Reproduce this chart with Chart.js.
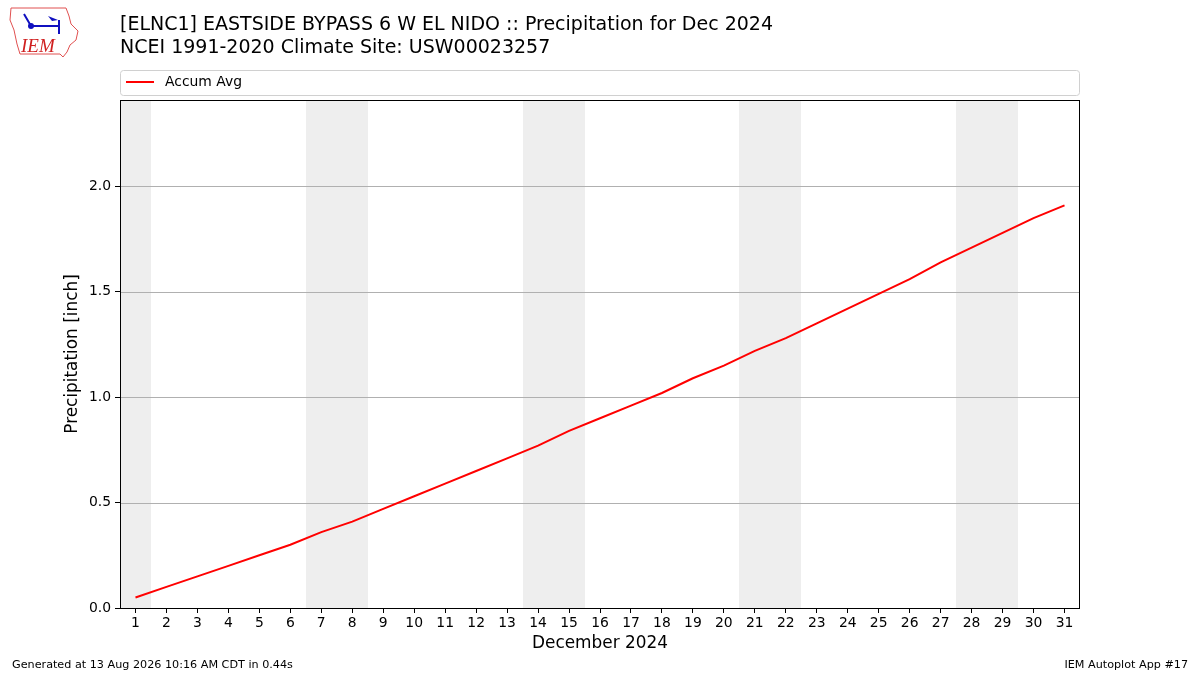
<!DOCTYPE html>
<html>
<head>
<meta charset="utf-8">
<script src="https://cdn.jsdelivr.net/npm/chart.js@4.4.1/dist/chart.umd.min.js"></script>
<style>
  html, body { margin: 0; padding: 0; background: #fff; }
  #wrap { width: 1200px; height: 675px; }
</style>
</head>
<body>
<div id="wrap"><canvas id="precipChart" width="1200" height="675"></canvas></div>
<script>
// chart data
const days = [1, 2, 3, 4, 5, 6, 7, 8, 9, 10, 11, 12, 13, 14, 15, 16,
              17, 18, 19, 20, 21, 22, 23, 24, 25, 26, 27, 28, 29, 30, 31];
const accumAvg = [0.05, 0.10, 0.15, 0.20, 0.25, 0.30, 0.36, 0.41, 0.47, 0.53, 0.59,
                  0.65, 0.71, 0.77, 0.84, 0.90, 0.96, 1.02, 1.09, 1.15, 1.22, 1.28,
                  1.35, 1.42, 1.49, 1.56, 1.64, 1.71, 1.78, 1.85, 1.91];
const weekendDays = [1, 7, 8, 14, 15, 21, 22, 28, 29];
const yTicks = [0.0, 0.5, 1.0, 1.5, 2.0];

const titleLines = [
    '[ELNC1] EASTSIDE BYPASS 6 W EL NIDO :: Precipitation for Dec 2024',
    'NCEI 1991-2020 Climate Site: USW00023257'
];
const xTitle = 'December 2024';
const yTitle = 'Precipitation [inch]';
const footLeft = 'Generated at 13 Aug 2026 10:16 AM CDT in 0.44s';
const footRight = 'IEM Autoplot App #17';

const FONT = '"DejaVu Sans", "Liberation Sans", sans-serif';

// grey weekend bands behind the line
const weekendBands = {
    id: 'weekendBands',
    beforeDatasetsDraw(chart) {
        const { ctx, chartArea, scales } = chart;
        ctx.save();
        ctx.fillStyle = '#eeeeee';
        weekendDays.forEach(d => {
            const x0 = Math.round(scales.x.getPixelForValue(d - 0.5));
            const x1 = Math.round(scales.x.getPixelForValue(d + 0.5));
            ctx.fillRect(x0, chartArea.top, x1 - x0, chartArea.bottom - chartArea.top);
        });
        ctx.restore();
    }
};

// grid lines on top of the bands
const gridOver = {
    id: 'gridOver',
    beforeDatasetsDraw(chart) {
        const { ctx, chartArea, scales } = chart;
        ctx.save();
        ctx.strokeStyle = '#b0b0b0';
        ctx.lineWidth = 1;
        yTicks.forEach(v => {
            if (v === 0) return;
            const y = Math.round(scales.y.getPixelForValue(v)) + 0.5;
            ctx.beginPath();
            ctx.moveTo(chartArea.left, y);
            ctx.lineTo(chartArea.right, y);
            ctx.stroke();
        });
        ctx.restore();
    }
};

function drawLogo(ctx) {
    ctx.save();
    // state outline
    ctx.strokeStyle = '#e05050';
    ctx.lineWidth = 1;
    ctx.beginPath();
    ctx.moveTo(11, 8);
    ctx.lineTo(66, 8);
    ctx.lineTo(69, 16);
    ctx.lineTo(71, 24);
    ctx.lineTo(78, 31);
    ctx.lineTo(76, 40);
    ctx.lineTo(70, 45);
    ctx.lineTo(67, 52);
    ctx.lineTo(63, 57);
    ctx.lineTo(60, 54);
    ctx.lineTo(20, 54);
    ctx.lineTo(17, 44);
    ctx.lineTo(14, 30);
    ctx.lineTo(10, 20);
    ctx.closePath();
    ctx.stroke();
    // weather station figure
    ctx.strokeStyle = '#1010c0';
    ctx.fillStyle = '#1010c0';
    ctx.lineWidth = 2;
    ctx.beginPath();
    ctx.moveTo(31, 26);
    ctx.lineTo(59, 26);
    ctx.moveTo(24, 14);
    ctx.lineTo(31, 26);
    ctx.moveTo(59, 20);
    ctx.lineTo(59, 34);
    ctx.stroke();
    ctx.beginPath();
    ctx.arc(31, 26, 3, 0, Math.PI * 2);
    ctx.fill();
    ctx.beginPath();
    ctx.moveTo(48, 16);
    ctx.lineTo(58, 20);
    ctx.lineTo(52, 21);
    ctx.closePath();
    ctx.fill();
    ctx.fillStyle = '#d02020';
    ctx.font = 'italic 19px "Liberation Serif", serif';
    ctx.textAlign = 'left';
    ctx.textBaseline = 'alphabetic';
    ctx.fillText('IEM', 21, 52);
    ctx.restore();
}

// titles, legend, axis titles, frame and footer
const decorations = {
    id: 'decorations',
    afterDraw(chart) {
        const { ctx, chartArea } = chart;
        ctx.save();
        ctx.fillStyle = '#000';
        ctx.textBaseline = 'middle';
        ctx.textAlign = 'left';
        ctx.font = '19px ' + FONT;
        ctx.fillText(titleLines[0], 120, 25);
        ctx.fillText(titleLines[1], 120, 48);

        // legend box
        const lx = chartArea.left, ly = 70, lw = chartArea.right - chartArea.left, lh = 25;
        ctx.strokeStyle = '#d0d0d0';
        ctx.lineWidth = 1;
        ctx.beginPath();
        ctx.roundRect(lx + 0.5, ly + 0.5, lw - 1, lh, 3);
        ctx.stroke();
        ctx.strokeStyle = chart.data.datasets[0].borderColor;
        ctx.lineWidth = 2;
        ctx.beginPath();
        ctx.moveTo(126, 82);
        ctx.lineTo(154, 82);
        ctx.stroke();
        ctx.font = '13.9px ' + FONT;
        ctx.fillText(chart.data.datasets[0].label, 165, 82);

        // frame
        ctx.strokeStyle = '#000';
        ctx.lineWidth = 1;
        ctx.strokeRect(chartArea.left + 0.5, chartArea.top + 0.5,
                       chartArea.right - chartArea.left - 1, chartArea.bottom - chartArea.top);

        // axis titles
        ctx.font = '16.9px ' + FONT;
        ctx.textAlign = 'center';
        ctx.fillText(xTitle, (chartArea.left + chartArea.right) / 2, 644);
        ctx.save();
        ctx.translate(73, (chartArea.top + chartArea.bottom) / 2);
        ctx.rotate(-Math.PI / 2);
        ctx.fillText(yTitle, 0, 0);
        ctx.restore();

        // footer
        ctx.font = '11.2px ' + FONT;
        ctx.textAlign = 'left';
        ctx.fillText(footLeft, 12, 665);
        ctx.textAlign = 'right';
        ctx.fillText(footRight, 1188, 665);

        drawLogo(ctx);
        ctx.restore();
    }
};

const ctx = document.getElementById('precipChart').getContext('2d');
new Chart(ctx, {
    type: 'line',
    data: {
        datasets: [{
            label: 'Accum Avg',
            data: days.map((d, i) => ({ x: d, y: accumAvg[i] })),
            borderColor: '#ff0000',
            borderWidth: 2,
            pointRadius: 0,
            fill: false,
            tension: 0
        }]
    },
    options: {
        responsive: false,
        animation: false,
        devicePixelRatio: 1,
        layout: { padding: { left: 0, right: 120, top: 100, bottom: 0 } },
        plugins: {
            legend: { display: false },
            title: { display: false },
            tooltip: { enabled: false }
        },
        scales: {
            x: {
                type: 'linear',
                min: 0.5,
                max: 31.5,
                afterBuildTicks(scale) { scale.ticks = days.map(v => ({ value: v })); },
                afterFit(scale) { scale.height = 67; },
                grid: { drawOnChartArea: false, drawTicks: true, tickLength: 5, tickColor: '#000' },
                border: { display: false },
                ticks: {
                    autoSkip: false,
                    maxRotation: 0,
                    padding: 2,
                    color: '#000',
                    font: { family: FONT, size: 13.9 },
                    callback: v => String(v)
                }
            },
            y: {
                min: 0,
                max: 2.41,
                afterBuildTicks(scale) { scale.ticks = yTicks.map(v => ({ value: v })); },
                afterFit(scale) { scale.width = 120; },
                grid: { drawOnChartArea: false, drawTicks: true, tickLength: 5, tickColor: '#000' },
                border: { display: false },
                ticks: {
                    padding: 4,
                    color: '#000',
                    font: { family: FONT, size: 13.9 },
                    callback: v => Number(v).toFixed(1)
                }
            }
        }
    },
    plugins: [weekendBands, gridOver, decorations]
});
</script>
</body>
</html>
